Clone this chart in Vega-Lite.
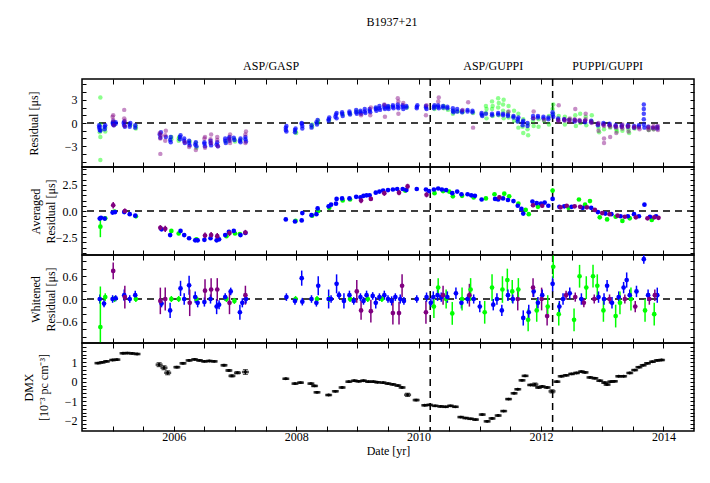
{
"$schema": "https://vega.github.io/schema/vega-lite/v6.json",
"padding": {"left": 21, "top": 16, "right": 5, "bottom": 5},
"bounds": "flush",
"spacing": 0,
"config": {
 "font": "Liberation Serif",
 "view": {"stroke": "black", "strokeWidth": 1.5},
 "axis": {"grid": false, "domain": false, "tickColor": "black", "tickWidth": 1, "labelColor": "black", "titleColor": "black", "labelFont": "Liberation Serif", "titleFont": "Liberation Serif", "labelFontSize": 12, "titleFontSize": 12, "titleFontWeight": "normal", "labelOverlap": false, "labelFlush": false, "labelBound": false},
 "title": {"font": "Liberation Serif", "fontSize": 12, "fontWeight": "normal", "color": "black"}
},
"datasets": {
 "v": [{"t": 2010.19}, {"t": 2012.19}],
 "ann": [{"t": 2007.59, "s": "ASP/GASP"}, {"t": 2011.22, "s": "ASP/GUPPI"}, {"t": 2013.09, "s": "PUPPI/GUPPI"}],
 "r": [
{"t":2004.78,"y":-0.3,"c":"b"},{"t":2004.78,"y":-0.6,"c":"b"},{"t":2004.79,"y":-0.9,"c":"b"},{"t":2004.79,"y":-0.5,"c":"b"},{"t":2004.8,"y":-1.0,"c":"b"},
{"t":2004.8,"y":3.3,"c":"a"},{"t":2004.8,"y":-0.2,"c":"a"},{"t":2004.79,"y":-1.2,"c":"a"},{"t":2004.8,"y":-1.8,"c":"a"},{"t":2004.8,"y":-4.8,"c":"a"},{"t":2004.81,"y":-0.9,"c":"a"},
{"t":2004.87,"y":-0.5,"c":"b"},{"t":2004.87,"y":-0.8,"c":"b"},{"t":2004.88,"y":-0.3,"c":"b"},{"t":2004.88,"y":-0.6,"c":"a"},{"t":2004.88,"y":-1.1,"c":"a"},
{"t":2005.0,"y":0.0,"c":"b"},{"t":2005.01,"y":-0.2,"c":"b"},{"t":2005.01,"y":0.2,"c":"b"},{"t":2005.02,"y":-0.3,"c":"b"},
{"t":2005.0,"y":0.8,"c":"c"},{"t":2005.01,"y":0.4,"c":"c"},{"t":2005.01,"y":1.0,"c":"c"},{"t":2005.02,"y":-0.3,"c":"c"},{"t":2005.02,"y":0.1,"c":"a"},{"t":2005.03,"y":-0.2,"c":"a"},
{"t":2005.05,"y":0.1,"c":"b"},{"t":2005.05,"y":-0.1,"c":"b"},
{"t":2005.18,"y":0.0,"c":"b"},{"t":2005.19,"y":-0.3,"c":"b"},{"t":2005.19,"y":0.2,"c":"b"},{"t":2005.2,"y":-0.5,"c":"b"},
{"t":2005.19,"y":1.7,"c":"c"},{"t":2005.19,"y":0.6,"c":"c"},{"t":2005.2,"y":-0.4,"c":"c"},{"t":2005.2,"y":0.3,"c":"c"},
{"t":2005.28,"y":-0.2,"c":"b"},{"t":2005.28,"y":-0.5,"c":"b"},{"t":2005.29,"y":0.0,"c":"b"},{"t":2005.29,"y":-0.3,"c":"a"},
{"t":2005.37,"y":-0.3,"c":"b"},{"t":2005.37,"y":-0.6,"c":"b"},{"t":2005.38,"y":-0.4,"c":"a"},{"t":2005.38,"y":-0.7,"c":"a"},
{"t":2005.77,"y":-1.5,"c":"b"},{"t":2005.78,"y":-1.9,"c":"b"},{"t":2005.79,"y":-1.2,"c":"b"},
{"t":2005.77,"y":-1.3,"c":"c"},{"t":2005.78,"y":-2.0,"c":"c"},{"t":2005.78,"y":-4.0,"c":"c"},{"t":2005.79,"y":-1.6,"c":"c"},
{"t":2005.86,"y":-1.6,"c":"c"},{"t":2005.86,"y":-2.3,"c":"c"},{"t":2005.87,"y":-1.0,"c":"c"},{"t":2005.87,"y":-1.8,"c":"b"},
{"t":2005.94,"y":-2.2,"c":"b"},{"t":2005.95,"y":-2.5,"c":"b"},{"t":2005.95,"y":-1.8,"c":"b"},{"t":2005.96,"y":-1.8,"c":"a"},{"t":2005.96,"y":-2.1,"c":"a"},
{"t":2006.08,"y":-2.0,"c":"a"},{"t":2006.08,"y":-2.3,"c":"a"},{"t":2006.09,"y":-1.8,"c":"a"},{"t":2006.1,"y":-1.8,"c":"b"},{"t":2006.1,"y":-2.1,"c":"b"},{"t":2006.11,"y":-1.6,"c":"b"},
{"t":2006.17,"y":-2.3,"c":"b"},{"t":2006.17,"y":-2.0,"c":"b"},{"t":2006.18,"y":-2.6,"c":"b"},{"t":2006.18,"y":-2.5,"c":"c"},
{"t":2006.25,"y":-2.6,"c":"b"},{"t":2006.25,"y":-2.3,"c":"b"},{"t":2006.26,"y":-2.9,"c":"b"},{"t":2006.26,"y":-2.4,"c":"a"},{"t":2006.25,"y":-3.1,"c":"c"},
{"t":2006.35,"y":-2.8,"c":"b"},{"t":2006.36,"y":-2.5,"c":"b"},{"t":2006.37,"y":-3.0,"c":"b"},{"t":2006.36,"y":-2.6,"c":"a"},{"t":2006.37,"y":-3.2,"c":"a"},{"t":2006.36,"y":-3.5,"c":"c"},
{"t":2006.5,"y":-2.7,"c":"b"},{"t":2006.5,"y":-2.5,"c":"b"},{"t":2006.51,"y":-3.0,"c":"b"},{"t":2006.5,"y":-2.0,"c":"c"},{"t":2006.51,"y":-1.8,"c":"c"},{"t":2006.51,"y":-3.2,"c":"c"},
{"t":2006.6,"y":-2.6,"c":"b"},{"t":2006.6,"y":-2.3,"c":"b"},{"t":2006.61,"y":-2.9,"c":"b"},{"t":2006.6,"y":-2.1,"c":"c"},{"t":2006.61,"y":-2.6,"c":"c"},{"t":2006.61,"y":-1.5,"c":"c"},
{"t":2006.7,"y":-2.8,"c":"b"},{"t":2006.71,"y":-2.5,"c":"b"},{"t":2006.72,"y":-3.0,"c":"b"},{"t":2006.71,"y":-2.2,"c":"c"},{"t":2006.71,"y":-1.8,"c":"c"},{"t":2006.72,"y":-3.0,"c":"c"},
{"t":2006.84,"y":-2.3,"c":"b"},{"t":2006.84,"y":-2.0,"c":"b"},{"t":2006.85,"y":-2.6,"c":"b"},{"t":2006.85,"y":-2.4,"c":"a"},
{"t":2006.9,"y":-2.0,"c":"b"},{"t":2006.91,"y":-1.8,"c":"b"},{"t":2006.91,"y":-2.3,"c":"b"},{"t":2006.91,"y":-2.1,"c":"c"},{"t":2006.92,"y":-1.5,"c":"c"},{"t":2006.92,"y":-2.6,"c":"c"},
{"t":2006.98,"y":-1.9,"c":"b"},{"t":2006.99,"y":-2.2,"c":"b"},{"t":2006.99,"y":-2.1,"c":"a"},{"t":2007.0,"y":-2.4,"c":"a"},
{"t":2007.08,"y":-2.3,"c":"b"},{"t":2007.09,"y":-2.0,"c":"b"},{"t":2007.09,"y":-2.5,"c":"b"},{"t":2007.09,"y":-2.2,"c":"a"},
{"t":2007.17,"y":-2.1,"c":"b"},{"t":2007.17,"y":-1.8,"c":"b"},{"t":2007.18,"y":-2.4,"c":"b"},{"t":2007.17,"y":-1.5,"c":"c"},{"t":2007.17,"y":-2.6,"c":"c"},{"t":2007.18,"y":-1.1,"c":"c"},
{"t":2007.83,"y":-0.6,"c":"b"},{"t":2007.83,"y":-0.9,"c":"b"},{"t":2007.84,"y":-1.1,"c":"b"},{"t":2007.84,"y":-0.4,"c":"b"},
{"t":2007.98,"y":-0.9,"c":"b"},{"t":2007.98,"y":-1.2,"c":"b"},{"t":2007.99,"y":-0.7,"c":"b"},{"t":2007.99,"y":-1.1,"c":"a"},{"t":2008.0,"y":-1.3,"c":"a"},
{"t":2008.09,"y":-0.1,"c":"b"},{"t":2008.09,"y":0.0,"c":"b"},{"t":2008.1,"y":-0.4,"c":"b"},{"t":2008.1,"y":-0.7,"c":"b"},
{"t":2008.25,"y":-0.3,"c":"b"},{"t":2008.25,"y":-0.6,"c":"b"},{"t":2008.26,"y":-0.5,"c":"a"},{"t":2008.26,"y":-0.2,"c":"a"},
{"t":2008.33,"y":0.1,"c":"b"},{"t":2008.34,"y":-0.2,"c":"b"},{"t":2008.35,"y":0.4,"c":"b"},{"t":2008.35,"y":0.0,"c":"a"},{"t":2008.36,"y":0.3,"c":"a"},
{"t":2008.53,"y":0.5,"c":"b"},{"t":2008.53,"y":0.3,"c":"b"},{"t":2008.54,"y":0.7,"c":"b"},{"t":2008.54,"y":0.4,"c":"a"},
{"t":2008.64,"y":0.8,"c":"b"},{"t":2008.65,"y":1.1,"c":"b"},{"t":2008.66,"y":1.3,"c":"b"},{"t":2008.66,"y":0.6,"c":"b"},
{"t":2008.75,"y":1.2,"c":"b"},{"t":2008.75,"y":1.4,"c":"b"},{"t":2008.76,"y":0.9,"c":"b"},{"t":2008.76,"y":1.1,"c":"a"},
{"t":2008.87,"y":1.3,"c":"b"},{"t":2008.87,"y":1.5,"c":"b"},{"t":2008.88,"y":1.1,"c":"b"},{"t":2008.88,"y":1.2,"c":"a"},
{"t":2008.98,"y":1.4,"c":"b"},{"t":2008.98,"y":1.7,"c":"b"},{"t":2008.99,"y":1.2,"c":"b"},{"t":2008.99,"y":1.5,"c":"a"},
{"t":2009.05,"y":1.4,"c":"b"},{"t":2009.05,"y":1.6,"c":"b"},{"t":2009.06,"y":1.2,"c":"b"},{"t":2009.06,"y":1.0,"c":"c"},
{"t":2009.12,"y":1.5,"c":"b"},{"t":2009.12,"y":1.8,"c":"b"},{"t":2009.13,"y":1.3,"c":"b"},
{"t":2009.2,"y":1.6,"c":"b"},{"t":2009.2,"y":1.8,"c":"b"},{"t":2009.21,"y":1.4,"c":"b"},{"t":2009.21,"y":1.0,"c":"c"},{"t":2009.22,"y":2.0,"c":"c"},
{"t":2009.3,"y":1.8,"c":"b"},{"t":2009.3,"y":2.0,"c":"b"},{"t":2009.31,"y":1.6,"c":"b"},{"t":2009.31,"y":1.9,"c":"a"},
{"t":2009.36,"y":1.9,"c":"b"},{"t":2009.36,"y":2.2,"c":"b"},{"t":2009.37,"y":1.7,"c":"b"},
{"t":2009.44,"y":2.0,"c":"b"},{"t":2009.44,"y":2.3,"c":"b"},{"t":2009.45,"y":1.8,"c":"b"},{"t":2009.44,"y":2.4,"c":"c"},{"t":2009.45,"y":0.8,"c":"c"},
{"t":2009.5,"y":2.0,"c":"b"},{"t":2009.5,"y":2.2,"c":"b"},{"t":2009.51,"y":1.8,"c":"b"},{"t":2009.51,"y":2.1,"c":"a"},
{"t":2009.58,"y":2.1,"c":"b"},{"t":2009.58,"y":2.3,"c":"b"},{"t":2009.59,"y":1.9,"c":"b"},
{"t":2009.66,"y":2.1,"c":"b"},{"t":2009.66,"y":2.4,"c":"b"},{"t":2009.67,"y":1.9,"c":"b"},{"t":2009.66,"y":3.2,"c":"c"},{"t":2009.67,"y":2.8,"c":"c"},{"t":2009.67,"y":1.2,"c":"c"},
{"t":2009.74,"y":2.1,"c":"b"},{"t":2009.74,"y":2.3,"c":"b"},{"t":2009.75,"y":1.8,"c":"b"},{"t":2009.75,"y":2.6,"c":"c"},
{"t":2009.8,"y":2.0,"c":"b"},{"t":2009.8,"y":2.2,"c":"b"},{"t":2009.81,"y":2.0,"c":"a"},
{"t":2009.97,"y":2.1,"c":"b"},{"t":2009.97,"y":1.9,"c":"b"},{"t":2009.98,"y":2.3,"c":"b"},
{"t":2010.12,"y":2.0,"c":"b"},{"t":2010.12,"y":2.2,"c":"b"},{"t":2010.13,"y":1.8,"c":"b"},{"t":2010.12,"y":1.0,"c":"c"},{"t":2010.13,"y":2.3,"c":"c"},
{"t":2010.25,"y":2.1,"c":"b"},{"t":2010.25,"y":1.9,"c":"b"},{"t":2010.26,"y":2.3,"c":"b"},{"t":2010.26,"y":1.8,"c":"a"},{"t":2010.27,"y":2.1,"c":"a"},
{"t":2010.32,"y":2.1,"c":"b"},{"t":2010.32,"y":2.3,"c":"b"},{"t":2010.33,"y":1.9,"c":"b"},{"t":2010.32,"y":2.8,"c":"c"},{"t":2010.33,"y":3.3,"c":"c"},
{"t":2010.4,"y":2.0,"c":"b"},{"t":2010.4,"y":2.2,"c":"b"},{"t":2010.41,"y":1.9,"c":"a"},{"t":2010.41,"y":2.2,"c":"a"},
{"t":2010.47,"y":1.9,"c":"b"},{"t":2010.47,"y":2.1,"c":"b"},{"t":2010.48,"y":1.7,"c":"a"},
{"t":2010.56,"y":1.6,"c":"b"},{"t":2010.56,"y":1.9,"c":"b"},{"t":2010.57,"y":1.4,"c":"b"},{"t":2010.56,"y":1.2,"c":"a"},{"t":2010.57,"y":1.6,"c":"a"},
{"t":2010.63,"y":1.8,"c":"b"},{"t":2010.63,"y":1.5,"c":"b"},{"t":2010.64,"y":1.5,"c":"a"},
{"t":2010.71,"y":1.6,"c":"b"},{"t":2010.71,"y":1.4,"c":"b"},{"t":2010.72,"y":1.4,"c":"a"},{"t":2010.72,"y":1.7,"c":"c"},
{"t":2010.8,"y":1.5,"c":"b"},{"t":2010.8,"y":1.7,"c":"b"},{"t":2010.81,"y":2.7,"c":"c"},
{"t":2010.88,"y":1.4,"c":"b"},{"t":2010.88,"y":1.6,"c":"b"},{"t":2010.89,"y":1.3,"c":"a"},{"t":2010.89,"y":-0.6,"c":"c"},
{"t":2011.03,"y":1.1,"c":"b"},{"t":2011.03,"y":1.3,"c":"b"},{"t":2011.04,"y":0.9,"c":"b"},{"t":2011.04,"y":1.0,"c":"a"},
{"t":2011.1,"y":1.2,"c":"b"},{"t":2011.1,"y":1.3,"c":"a"},{"t":2011.1,"y":2.2,"c":"a"},{"t":2011.11,"y":0.6,"c":"a"},{"t":2011.11,"y":1.8,"c":"a"},
{"t":2011.2,"y":1.2,"c":"b"},{"t":2011.2,"y":1.0,"c":"b"},{"t":2011.2,"y":1.8,"c":"a"},{"t":2011.2,"y":2.8,"c":"a"},{"t":2011.21,"y":0.9,"c":"a"},{"t":2011.21,"y":2.2,"c":"a"},
{"t":2011.3,"y":1.1,"c":"b"},{"t":2011.3,"y":1.3,"c":"b"},{"t":2011.3,"y":2.0,"c":"a"},{"t":2011.3,"y":3.2,"c":"a"},{"t":2011.31,"y":1.0,"c":"a"},{"t":2011.31,"y":2.6,"c":"a"},
{"t":2011.38,"y":1.2,"c":"b"},{"t":2011.38,"y":1.0,"c":"b"},{"t":2011.38,"y":1.6,"c":"a"},{"t":2011.38,"y":2.4,"c":"a"},{"t":2011.39,"y":0.6,"c":"a"},{"t":2011.39,"y":3.0,"c":"a"},
{"t":2011.46,"y":1.1,"c":"b"},{"t":2011.46,"y":0.9,"c":"b"},{"t":2011.46,"y":1.4,"c":"a"},{"t":2011.47,"y":2.2,"c":"a"},{"t":2011.47,"y":0.7,"c":"a"},{"t":2011.47,"y":1.5,"c":"c"},
{"t":2011.55,"y":0.9,"c":"b"},{"t":2011.55,"y":0.7,"c":"b"},{"t":2011.55,"y":0.8,"c":"a"},{"t":2011.56,"y":1.6,"c":"a"},{"t":2011.56,"y":0.3,"c":"a"},
{"t":2011.62,"y":0.5,"c":"b"},{"t":2011.62,"y":0.2,"c":"b"},{"t":2011.63,"y":0.7,"c":"b"},{"t":2011.62,"y":0.2,"c":"a"},{"t":2011.63,"y":-0.6,"c":"a"},{"t":2011.63,"y":1.2,"c":"a"},
{"t":2011.7,"y":0.1,"c":"b"},{"t":2011.7,"y":-0.3,"c":"b"},{"t":2011.71,"y":0.3,"c":"b"},{"t":2011.7,"y":-0.5,"c":"a"},{"t":2011.71,"y":-1.3,"c":"a"},{"t":2011.71,"y":0.5,"c":"a"},
{"t":2011.78,"y":0.0,"c":"b"},{"t":2011.78,"y":-0.4,"c":"b"},{"t":2011.78,"y":-0.8,"c":"a"},{"t":2011.79,"y":-1.6,"c":"a"},{"t":2011.79,"y":-0.2,"c":"a"},
{"t":2011.87,"y":0.9,"c":"b"},{"t":2011.87,"y":0.6,"c":"b"},{"t":2011.87,"y":0.3,"c":"a"},{"t":2011.88,"y":-0.4,"c":"a"},{"t":2011.88,"y":0.6,"c":"c"},{"t":2011.88,"y":1.5,"c":"c"},
{"t":2011.95,"y":0.7,"c":"b"},{"t":2011.95,"y":0.9,"c":"b"},{"t":2011.96,"y":0.5,"c":"a"},{"t":2011.96,"y":-0.5,"c":"a"},
{"t":2012.04,"y":0.8,"c":"b"},{"t":2012.04,"y":0.6,"c":"b"},{"t":2012.05,"y":0.3,"c":"a"},{"t":2012.05,"y":0.4,"c":"c"},
{"t":2012.12,"y":0.5,"c":"b"},{"t":2012.12,"y":0.7,"c":"b"},{"t":2012.13,"y":0.9,"c":"a"},{"t":2012.13,"y":-0.2,"c":"a"},
{"t":2012.19,"y":1.1,"c":"b"},{"t":2012.19,"y":1.4,"c":"b"},{"t":2012.2,"y":0.8,"c":"b"},{"t":2012.19,"y":1.8,"c":"a"},{"t":2012.2,"y":2.4,"c":"a"},{"t":2012.2,"y":1.2,"c":"a"},
{"t":2012.28,"y":0.4,"c":"b"},{"t":2012.28,"y":0.6,"c":"b"},{"t":2012.28,"y":0.4,"c":"c"},{"t":2012.29,"y":0.2,"c":"c"},{"t":2012.29,"y":2.3,"c":"c"},{"t":2012.29,"y":0.9,"c":"a"},
{"t":2012.38,"y":0.4,"c":"b"},{"t":2012.38,"y":0.5,"c":"b"},{"t":2012.38,"y":0.5,"c":"c"},{"t":2012.39,"y":0.3,"c":"c"},{"t":2012.39,"y":0.8,"c":"a"},{"t":2012.39,"y":-0.2,"c":"a"},
{"t":2012.46,"y":0.4,"c":"b"},{"t":2012.46,"y":0.4,"c":"c"},{"t":2012.47,"y":0.6,"c":"c"},{"t":2012.47,"y":0.2,"c":"c"},{"t":2012.47,"y":0.5,"c":"a"},
{"t":2012.55,"y":0.4,"c":"b"},{"t":2012.55,"y":0.2,"c":"b"},{"t":2012.55,"y":0.5,"c":"c"},{"t":2012.56,"y":0.3,"c":"c"},{"t":2012.56,"y":1.8,"c":"c"},{"t":2012.56,"y":1.0,"c":"a"},{"t":2012.57,"y":-0.4,"c":"a"},
{"t":2012.63,"y":0.3,"c":"b"},{"t":2012.63,"y":0.4,"c":"c"},{"t":2012.64,"y":0.2,"c":"c"},{"t":2012.64,"y":1.2,"c":"a"},{"t":2012.64,"y":0.0,"c":"a"},
{"t":2012.72,"y":0.3,"c":"b"},{"t":2012.72,"y":0.1,"c":"b"},{"t":2012.72,"y":0.3,"c":"c"},{"t":2012.73,"y":0.5,"c":"c"},{"t":2012.73,"y":1.2,"c":"c"},{"t":2012.73,"y":0.8,"c":"a"},{"t":2012.74,"y":-0.3,"c":"a"},
{"t":2012.82,"y":0.3,"c":"b"},{"t":2012.82,"y":0.1,"c":"b"},{"t":2012.82,"y":0.2,"c":"c"},{"t":2012.83,"y":0.0,"c":"c"},{"t":2012.83,"y":1.0,"c":"a"},{"t":2012.83,"y":0.2,"c":"a"},
{"t":2012.93,"y":-0.1,"c":"b"},{"t":2012.93,"y":-0.3,"c":"b"},{"t":2012.93,"y":-0.2,"c":"c"},{"t":2012.94,"y":0.0,"c":"c"},{"t":2012.94,"y":-1.0,"c":"c"},{"t":2012.94,"y":-0.6,"c":"a"},{"t":2012.95,"y":-1.2,"c":"a"},
{"t":2013.02,"y":-0.2,"c":"b"},{"t":2013.02,"y":0.0,"c":"b"},{"t":2013.02,"y":-0.2,"c":"c"},{"t":2013.03,"y":-0.4,"c":"c"},{"t":2013.03,"y":-2.0,"c":"c"},{"t":2013.03,"y":-2.6,"c":"c"},{"t":2013.03,"y":-0.8,"c":"a"},
{"t":2013.12,"y":-0.3,"c":"b"},{"t":2013.12,"y":-0.1,"c":"b"},{"t":2013.12,"y":-0.3,"c":"c"},{"t":2013.13,"y":-0.5,"c":"c"},{"t":2013.13,"y":-1.8,"c":"c"},{"t":2013.13,"y":-0.6,"c":"a"},
{"t":2013.22,"y":-0.3,"c":"b"},{"t":2013.22,"y":-0.5,"c":"b"},{"t":2013.22,"y":-0.4,"c":"c"},{"t":2013.23,"y":-0.6,"c":"c"},{"t":2013.23,"y":-1.3,"c":"c"},{"t":2013.23,"y":-0.8,"c":"a"},{"t":2013.24,"y":-1.1,"c":"a"},
{"t":2013.32,"y":-0.5,"c":"b"},{"t":2013.32,"y":-0.3,"c":"b"},{"t":2013.32,"y":-0.5,"c":"c"},{"t":2013.33,"y":-0.7,"c":"c"},{"t":2013.33,"y":-0.2,"c":"c"},{"t":2013.33,"y":-1.0,"c":"a"},
{"t":2013.42,"y":-0.5,"c":"b"},{"t":2013.42,"y":-0.3,"c":"b"},{"t":2013.42,"y":-0.5,"c":"c"},{"t":2013.43,"y":-0.4,"c":"c"},{"t":2013.43,"y":-1.1,"c":"c"},{"t":2013.43,"y":-0.8,"c":"a"},{"t":2013.44,"y":-1.3,"c":"a"},
{"t":2013.52,"y":-0.4,"c":"b"},{"t":2013.52,"y":-0.6,"c":"b"},{"t":2013.52,"y":-0.6,"c":"c"},{"t":2013.53,"y":-0.5,"c":"c"},{"t":2013.53,"y":-0.7,"c":"a"},
{"t":2013.6,"y":-0.5,"c":"b"},{"t":2013.6,"y":-0.3,"c":"b"},{"t":2013.6,"y":-0.6,"c":"c"},{"t":2013.61,"y":-0.8,"c":"c"},
{"t":2013.68,"y":2.4,"c":"b"},{"t":2013.68,"y":1.8,"c":"b"},{"t":2013.68,"y":1.2,"c":"b"},{"t":2013.68,"y":0.5,"c":"b"},{"t":2013.68,"y":-0.2,"c":"b"},{"t":2013.69,"y":-0.6,"c":"b"},
{"t":2013.75,"y":-0.5,"c":"b"},{"t":2013.75,"y":-0.7,"c":"c"},{"t":2013.76,"y":-0.5,"c":"c"},{"t":2013.76,"y":-0.9,"c":"c"},{"t":2013.76,"y":-0.9,"c":"a"},
{"t":2013.83,"y":-0.6,"c":"b"},{"t":2013.83,"y":-0.6,"c":"c"},{"t":2013.84,"y":-0.8,"c":"c"},{"t":2013.84,"y":-0.4,"c":"c"},{"t":2013.84,"y":-0.8,"c":"a"},
{"t":2013.9,"y":-0.5,"c":"b"},{"t":2013.9,"y":-0.7,"c":"b"},{"t":2013.9,"y":-0.6,"c":"c"},{"t":2013.91,"y":-0.9,"c":"c"},{"t":2013.91,"y":-0.4,"c":"c"}
 ],
 "a": [
{"t":2004.79,"y":-0.72,"e":0.15,"c":"b"},{"t":2004.81,"y":-0.65,"e":0.15,"c":"b"},{"t":2004.8,"y":-1.5,"e":1.0,"c":"a"},{"t":2004.88,"y":-0.7,"e":0.2,"c":"a"},{"t":2004.87,"y":-0.72,"e":0.12,"c":"b"},
{"t":2005.01,"y":0.55,"e":0.3,"c":"c"},{"t":2005.0,"y":-0.15,"e":0.1,"c":"b"},{"t":2005.04,"y":-0.1,"e":0.1,"c":"b"},{"t":2005.03,"y":-0.05,"e":0.1,"c":"a"},
{"t":2005.19,"y":-0.1,"e":0.1,"c":"b"},{"t":2005.2,"y":0.0,"e":0.25,"c":"c"},{"t":2005.28,"y":-0.3,"e":0.1,"c":"b"},{"t":2005.38,"y":-0.5,"e":0.2,"c":"a"},{"t":2005.37,"y":-0.45,"e":0.1,"c":"b"},
{"t":2005.78,"y":-1.6,"e":0.25,"c":"c"},{"t":2005.8,"y":-1.75,"e":0.1,"c":"b"},{"t":2005.86,"y":-1.7,"e":0.3,"c":"c"},{"t":2005.94,"y":-2.3,"e":0.15,"c":"b"},{"t":2005.96,"y":-1.9,"e":0.15,"c":"a"},
{"t":2006.08,"y":-2.15,"e":0.15,"c":"a"},{"t":2006.11,"y":-1.9,"e":0.15,"c":"b"},{"t":2006.17,"y":-2.3,"e":0.12,"c":"b"},{"t":2006.25,"y":-2.6,"e":0.12,"c":"b"},
{"t":2006.35,"y":-2.8,"e":0.12,"c":"b"},{"t":2006.39,"y":-2.8,"e":0.12,"c":"b"},{"t":2006.37,"y":-2.7,"e":0.15,"c":"a"},
{"t":2006.5,"y":-2.75,"e":0.12,"c":"b"},{"t":2006.51,"y":-2.35,"e":0.3,"c":"c"},{"t":2006.6,"y":-2.6,"e":0.12,"c":"b"},{"t":2006.61,"y":-2.3,"e":0.3,"c":"c"},
{"t":2006.7,"y":-2.8,"e":0.12,"c":"b"},{"t":2006.71,"y":-2.4,"e":0.3,"c":"c"},{"t":2006.74,"y":-2.7,"e":0.12,"c":"b"},{"t":2006.84,"y":-2.3,"e":0.12,"c":"b"},{"t":2006.86,"y":-2.4,"e":0.15,"c":"a"},
{"t":2006.9,"y":-2.0,"e":0.12,"c":"b"},{"t":2006.91,"y":-2.1,"e":0.3,"c":"c"},{"t":2006.98,"y":-1.9,"e":0.12,"c":"b"},{"t":2007.0,"y":-2.15,"e":0.15,"c":"a"},
{"t":2007.09,"y":-2.3,"e":0.12,"c":"b"},{"t":2007.08,"y":-2.2,"e":0.15,"c":"a"},{"t":2007.17,"y":-2.1,"e":0.12,"c":"b"},{"t":2007.17,"y":-2.05,"e":0.25,"c":"c"},
{"t":2007.83,"y":-0.8,"e":0.1,"c":"b"},{"t":2007.98,"y":-1.0,"e":0.1,"c":"b"},{"t":2007.99,"y":-0.95,"e":0.1,"c":"a"},{"t":2008.09,"y":-0.9,"e":0.1,"c":"b"},{"t":2008.1,"y":-0.2,"e":0.15,"c":"b"},
{"t":2008.25,"y":-0.4,"e":0.1,"c":"b"},{"t":2008.26,"y":-0.45,"e":0.1,"c":"a"},{"t":2008.33,"y":-0.3,"e":0.1,"c":"b"},{"t":2008.35,"y":0.25,"e":0.15,"c":"b"},{"t":2008.36,"y":0.0,"e":0.1,"c":"a"},
{"t":2008.53,"y":0.45,"e":0.1,"c":"b"},{"t":2008.54,"y":0.3,"e":0.1,"c":"a"},{"t":2008.57,"y":0.6,"e":0.1,"c":"b"},{"t":2008.65,"y":0.7,"e":0.1,"c":"b"},{"t":2008.66,"y":1.15,"e":0.15,"c":"b"},
{"t":2008.75,"y":1.2,"e":0.1,"c":"b"},{"t":2008.76,"y":1.0,"e":0.1,"c":"a"},{"t":2008.87,"y":1.2,"e":0.1,"c":"b"},{"t":2008.88,"y":1.1,"e":0.1,"c":"a"},{"t":2008.98,"y":1.35,"e":0.1,"c":"b"},
{"t":2009.05,"y":1.3,"e":0.1,"c":"b"},{"t":2009.06,"y":1.0,"e":0.25,"c":"c"},{"t":2009.1,"y":1.45,"e":0.1,"c":"b"},{"t":2009.15,"y":1.5,"e":0.1,"c":"b"},{"t":2009.2,"y":1.5,"e":0.1,"c":"b"},{"t":2009.22,"y":1.15,"e":0.2,"c":"c"},
{"t":2009.3,"y":1.75,"e":0.1,"c":"b"},{"t":2009.36,"y":1.85,"e":0.1,"c":"b"},{"t":2009.42,"y":1.95,"e":0.1,"c":"b"},{"t":2009.44,"y":1.7,"e":0.25,"c":"c"},{"t":2009.5,"y":2.0,"e":0.1,"c":"b"},
{"t":2009.58,"y":2.05,"e":0.1,"c":"b"},{"t":2009.65,"y":2.1,"e":0.1,"c":"b"},{"t":2009.68,"y":1.75,"e":0.25,"c":"c"},{"t":2009.74,"y":2.1,"e":0.1,"c":"b"},{"t":2009.8,"y":2.0,"e":0.1,"c":"b"},
{"t":2009.82,"y":2.35,"e":0.25,"c":"c"},{"t":2009.78,"y":1.95,"e":0.1,"c":"a"},{"t":2009.97,"y":2.1,"e":0.1,"c":"b"},{"t":2010.12,"y":2.05,"e":0.1,"c":"b"},{"t":2010.13,"y":1.55,"e":0.25,"c":"c"},
{"t":2010.17,"y":1.9,"e":0.1,"c":"b"},{"t":2010.25,"y":2.05,"e":0.1,"c":"b"},{"t":2010.26,"y":1.7,"e":0.15,"c":"a"},{"t":2010.32,"y":2.15,"e":0.1,"c":"b"},{"t":2010.38,"y":2.05,"e":0.1,"c":"b"},
{"t":2010.4,"y":1.9,"e":0.15,"c":"a"},{"t":2010.45,"y":2.0,"e":0.1,"c":"b"},{"t":2010.5,"y":1.85,"e":0.15,"c":"a"},{"t":2010.55,"y":1.7,"e":0.1,"c":"b"},{"t":2010.56,"y":1.4,"e":0.15,"c":"a"},
{"t":2010.63,"y":1.85,"e":0.1,"c":"b"},{"t":2010.7,"y":1.6,"e":0.1,"c":"b"},{"t":2010.71,"y":1.45,"e":0.15,"c":"a"},{"t":2010.8,"y":1.6,"e":0.1,"c":"b"},{"t":2010.86,"y":1.5,"e":0.1,"c":"b"},
{"t":2010.9,"y":1.3,"e":0.15,"c":"a"},{"t":2010.92,"y":1.45,"e":0.1,"c":"b"},{"t":2011.03,"y":1.1,"e":0.1,"c":"b"},{"t":2011.1,"y":1.2,"e":0.15,"c":"a"},{"t":2011.25,"y":1.15,"e":0.1,"c":"b"},
{"t":2011.24,"y":1.6,"e":0.15,"c":"a"},{"t":2011.3,"y":1.1,"e":0.1,"c":"b"},{"t":2011.32,"y":1.3,"e":0.2,"c":"c"},{"t":2011.38,"y":1.2,"e":0.1,"c":"b"},{"t":2011.4,"y":1.65,"e":0.15,"c":"a"},
{"t":2011.46,"y":1.05,"e":0.1,"c":"b"},{"t":2011.48,"y":1.4,"e":0.15,"c":"a"},{"t":2011.55,"y":0.95,"e":0.1,"c":"b"},{"t":2011.62,"y":0.5,"e":0.1,"c":"b"},{"t":2011.63,"y":0.7,"e":0.15,"c":"a"},
{"t":2011.68,"y":0.2,"e":0.1,"c":"b"},{"t":2011.71,"y":-0.25,"e":0.12,"c":"b"},{"t":2011.75,"y":0.1,"e":0.15,"c":"a"},{"t":2011.8,"y":-0.3,"e":0.15,"c":"a"},{"t":2011.86,"y":0.9,"e":0.1,"c":"b"},
{"t":2011.87,"y":0.55,"e":0.2,"c":"c"},{"t":2011.93,"y":0.75,"e":0.1,"c":"b"},{"t":2011.95,"y":0.4,"e":0.15,"c":"a"},{"t":2012.0,"y":0.7,"e":0.1,"c":"b"},{"t":2012.02,"y":0.5,"e":0.2,"c":"c"},
{"t":2012.06,"y":0.8,"e":0.1,"c":"b"},{"t":2012.12,"y":0.5,"e":0.1,"c":"b"},{"t":2012.19,"y":1.15,"e":0.12,"c":"b"},{"t":2012.19,"y":1.95,"e":0.2,"c":"a"},
{"t":2012.3,"y":0.4,"e":0.1,"c":"b"},{"t":2012.32,"y":0.35,"e":0.12,"c":"c"},{"t":2012.38,"y":0.45,"e":0.1,"c":"b"},{"t":2012.42,"y":0.5,"e":0.12,"c":"c"},{"t":2012.45,"y":0.3,"e":0.15,"c":"a"},
{"t":2012.5,"y":0.4,"e":0.1,"c":"b"},{"t":2012.55,"y":0.45,"e":0.12,"c":"c"},{"t":2012.62,"y":1.1,"e":0.15,"c":"a"},{"t":2012.64,"y":0.4,"e":0.12,"c":"c"},{"t":2012.68,"y":0.3,"e":0.1,"c":"b"},
{"t":2012.72,"y":0.6,"e":0.15,"c":"a"},{"t":2012.75,"y":0.35,"e":0.12,"c":"c"},{"t":2012.8,"y":0.95,"e":0.15,"c":"a"},{"t":2012.82,"y":0.3,"e":0.1,"c":"b"},{"t":2012.88,"y":0.1,"e":0.12,"c":"c"},
{"t":2012.93,"y":-0.1,"e":0.1,"c":"b"},{"t":2012.96,"y":-0.6,"e":0.15,"c":"a"},{"t":2013.0,"y":-0.2,"e":0.12,"c":"c"},{"t":2013.05,"y":-0.25,"e":0.1,"c":"b"},{"t":2013.08,"y":-0.8,"e":0.15,"c":"a"},
{"t":2013.12,"y":-0.3,"e":0.12,"c":"c"},{"t":2013.15,"y":-0.3,"e":0.1,"c":"b"},{"t":2013.22,"y":-0.55,"e":0.15,"c":"a"},{"t":2013.25,"y":-0.45,"e":0.12,"c":"c"},{"t":2013.3,"y":-0.5,"e":0.1,"c":"b"},
{"t":2013.33,"y":-0.95,"e":0.15,"c":"a"},{"t":2013.37,"y":-0.55,"e":0.12,"c":"c"},{"t":2013.42,"y":-0.5,"e":0.1,"c":"b"},{"t":2013.45,"y":-0.7,"e":0.15,"c":"a"},{"t":2013.52,"y":-0.3,"e":0.1,"c":"b"},
{"t":2013.55,"y":-0.6,"e":0.12,"c":"c"},{"t":2013.6,"y":-0.5,"e":0.1,"c":"b"},{"t":2013.69,"y":0.6,"e":0.1,"c":"b"},{"t":2013.74,"y":-0.7,"e":0.12,"c":"c"},{"t":2013.78,"y":-0.55,"e":0.1,"c":"b"},
{"t":2013.81,"y":-0.85,"e":0.15,"c":"a"},{"t":2013.85,"y":-0.6,"e":0.12,"c":"c"},{"t":2013.88,"y":-0.5,"e":0.1,"c":"b"},{"t":2013.92,"y":-0.65,"e":0.12,"c":"c"}
 ],
 "w": [
{"t":2004.79,"y":0.0,"e":0.12,"c":"b"},{"t":2004.8,"y":-0.74,"e":1.07,"c":"a"},{"t":2004.86,"y":-0.12,"e":0.1,"c":"b"},{"t":2004.88,"y":0.05,"e":0.1,"c":"a"},
{"t":2005.01,"y":0.74,"e":0.22,"c":"c"},{"t":2005.0,"y":0.0,"e":0.1,"c":"b"},{"t":2005.03,"y":0.0,"e":0.08,"c":"a"},{"t":2005.05,"y":0.02,"e":0.08,"c":"b"},
{"t":2005.19,"y":0.1,"e":0.15,"c":"b"},{"t":2005.2,"y":0.05,"e":0.3,"c":"c"},{"t":2005.28,"y":0.0,"e":0.1,"c":"b"},{"t":2005.37,"y":0.1,"e":0.12,"c":"b"},{"t":2005.38,"y":0.0,"e":0.08,"c":"a"},
{"t":2005.78,"y":-0.05,"e":0.35,"c":"c"},{"t":2005.8,"y":-0.12,"e":0.1,"c":"b"},{"t":2005.86,"y":0.0,"e":0.3,"c":"c"},{"t":2005.94,"y":-0.3,"e":0.2,"c":"b"},{"t":2005.96,"y":0.0,"e":0.08,"c":"a"},
{"t":2006.08,"y":0.0,"e":0.08,"c":"a"},{"t":2006.11,"y":0.28,"e":0.2,"c":"b"},{"t":2006.17,"y":0.0,"e":0.15,"c":"b"},{"t":2006.25,"y":0.36,"e":0.25,"c":"b"},{"t":2006.26,"y":-0.1,"e":0.35,"c":"c"},
{"t":2006.35,"y":0.05,"e":0.15,"c":"b"},{"t":2006.39,"y":-0.1,"e":0.12,"c":"b"},{"t":2006.37,"y":0.0,"e":0.08,"c":"a"},{"t":2006.5,"y":-0.08,"e":0.12,"c":"b"},{"t":2006.51,"y":0.22,"e":0.3,"c":"c"},
{"t":2006.6,"y":0.0,"e":0.12,"c":"b"},{"t":2006.61,"y":0.25,"e":0.3,"c":"c"},{"t":2006.7,"y":-0.2,"e":0.2,"c":"b"},{"t":2006.71,"y":0.25,"e":0.3,"c":"c"},{"t":2006.74,"y":-0.15,"e":0.12,"c":"b"},
{"t":2006.84,"y":0.05,"e":0.1,"c":"b"},{"t":2006.86,"y":0.0,"e":0.08,"c":"a"},{"t":2006.91,"y":-0.1,"e":0.3,"c":"c"},{"t":2006.93,"y":0.2,"e":0.1,"c":"b"},{"t":2006.99,"y":-0.05,"e":0.08,"c":"a"},
{"t":2007.08,"y":-0.35,"e":0.2,"c":"b"},{"t":2007.12,"y":-0.1,"e":0.12,"c":"b"},{"t":2007.17,"y":0.1,"e":0.25,"c":"c"},{"t":2007.18,"y":0.0,"e":0.12,"c":"b"},
{"t":2007.84,"y":0.05,"e":0.1,"c":"b"},{"t":2007.98,"y":-0.05,"e":0.1,"c":"b"},{"t":2007.99,"y":0.0,"e":0.08,"c":"a"},{"t":2008.09,"y":0.55,"e":0.2,"c":"b"},{"t":2008.1,"y":-0.07,"e":0.1,"c":"b"},
{"t":2008.25,"y":0.0,"e":0.1,"c":"b"},{"t":2008.33,"y":-0.1,"e":0.1,"c":"b"},{"t":2008.34,"y":0.0,"e":0.08,"c":"a"},{"t":2008.36,"y":0.35,"e":0.25,"c":"b"},{"t":2008.53,"y":0.0,"e":0.25,"c":"b"},
{"t":2008.54,"y":0.0,"e":0.08,"c":"a"},{"t":2008.57,"y":0.0,"e":0.1,"c":"b"},{"t":2008.66,"y":0.4,"e":0.25,"c":"b"},{"t":2008.7,"y":0.1,"e":0.1,"c":"b"},{"t":2008.78,"y":-0.05,"e":0.2,"c":"b"},
{"t":2008.87,"y":0.1,"e":0.12,"c":"b"},{"t":2008.88,"y":0.0,"e":0.08,"c":"a"},{"t":2008.94,"y":-0.05,"e":0.1,"c":"b"},{"t":2008.99,"y":0.2,"e":0.3,"c":"c"},
{"t":2009.06,"y":-0.3,"e":0.25,"c":"c"},{"t":2009.05,"y":0.05,"e":0.1,"c":"b"},{"t":2009.1,"y":-0.05,"e":0.1,"c":"b"},{"t":2009.15,"y":0.1,"e":0.12,"c":"b"},{"t":2009.17,"y":0.0,"e":0.08,"c":"a"},
{"t":2009.22,"y":-0.32,"e":0.3,"c":"c"},{"t":2009.25,"y":0.08,"e":0.1,"c":"b"},{"t":2009.3,"y":-0.1,"e":0.15,"c":"b"},{"t":2009.36,"y":0.05,"e":0.1,"c":"b"},{"t":2009.4,"y":0.0,"e":0.08,"c":"a"},
{"t":2009.44,"y":0.1,"e":0.12,"c":"b"},{"t":2009.5,"y":0.0,"e":0.1,"c":"b"},{"t":2009.56,"y":-0.05,"e":0.12,"c":"b"},{"t":2009.58,"y":-0.37,"e":0.3,"c":"c"},{"t":2009.62,"y":0.05,"e":0.1,"c":"b"},
{"t":2009.68,"y":-0.37,"e":0.3,"c":"c"},{"t":2009.7,"y":0.0,"e":0.12,"c":"b"},{"t":2009.73,"y":0.35,"e":0.3,"c":"c"},{"t":2009.76,"y":-0.05,"e":0.1,"c":"b"},{"t":2009.97,"y":0.0,"e":0.1,"c":"b"},
{"t":2010.12,"y":-0.35,"e":0.3,"c":"c"},{"t":2010.13,"y":0.05,"e":0.12,"c":"b"},{"t":2010.2,"y":-0.1,"e":0.12,"c":"b"},{"t":2010.24,"y":0.05,"e":0.15,"c":"b"},{"t":2010.25,"y":-0.2,"e":0.3,"c":"a"},
{"t":2010.31,"y":0.1,"e":0.15,"c":"b"},{"t":2010.32,"y":0.3,"e":0.25,"c":"a"},{"t":2010.37,"y":0.05,"e":0.12,"c":"b"},{"t":2010.4,"y":0.1,"e":0.25,"c":"c"},{"t":2010.45,"y":0.0,"e":0.25,"c":"a"},
{"t":2010.47,"y":0.05,"e":0.15,"c":"b"},{"t":2010.55,"y":-0.38,"e":0.3,"c":"a"},{"t":2010.61,"y":0.15,"e":0.15,"c":"b"},{"t":2010.7,"y":-0.1,"e":0.15,"c":"b"},{"t":2010.71,"y":0.0,"e":0.3,"c":"a"},
{"t":2010.8,"y":0.0,"e":0.12,"c":"b"},{"t":2010.83,"y":0.1,"e":0.3,"c":"c"},{"t":2010.85,"y":0.25,"e":0.3,"c":"a"},{"t":2010.9,"y":0.0,"e":0.12,"c":"b"},{"t":2011.0,"y":-0.2,"e":0.15,"c":"b"},
{"t":2011.08,"y":-0.35,"e":0.3,"c":"a"},{"t":2011.2,"y":0.3,"e":0.35,"c":"a"},{"t":2011.22,"y":-0.15,"e":0.15,"c":"b"},{"t":2011.28,"y":0.0,"e":0.15,"c":"b"},{"t":2011.36,"y":-0.3,"e":0.15,"c":"b"},
{"t":2011.37,"y":0.25,"e":0.35,"c":"a"},{"t":2011.45,"y":0.5,"e":0.3,"c":"a"},{"t":2011.46,"y":0.1,"e":0.15,"c":"b"},{"t":2011.53,"y":0.2,"e":0.3,"c":"a"},{"t":2011.54,"y":0.0,"e":0.12,"c":"b"},
{"t":2011.62,"y":0.0,"e":0.3,"c":"c"},{"t":2011.63,"y":0.25,"e":0.3,"c":"a"},{"t":2011.71,"y":-0.5,"e":0.2,"c":"b"},{"t":2011.79,"y":-0.55,"e":0.3,"c":"a"},{"t":2011.8,"y":-0.35,"e":0.2,"c":"b"},
{"t":2011.87,"y":0.3,"e":0.25,"c":"c"},{"t":2011.88,"y":0.2,"e":0.15,"c":"b"},{"t":2011.93,"y":-0.3,"e":0.3,"c":"a"},{"t":2011.95,"y":-0.1,"e":0.15,"c":"b"},{"t":2012.01,"y":0.0,"e":0.3,"c":"c"},
{"t":2012.02,"y":0.1,"e":0.15,"c":"b"},{"t":2012.1,"y":-0.45,"e":0.25,"c":"c"},{"t":2012.11,"y":-0.2,"e":0.3,"c":"a"},{"t":2012.19,"y":0.4,"e":0.2,"c":"b"},{"t":2012.2,"y":0.85,"e":0.3,"c":"a"},
{"t":2012.29,"y":-0.4,"e":0.3,"c":"a"},{"t":2012.3,"y":-0.2,"e":0.15,"c":"b"},{"t":2012.36,"y":0.0,"e":0.15,"c":"b"},{"t":2012.41,"y":0.1,"e":0.12,"c":"c"},{"t":2012.47,"y":0.15,"e":0.15,"c":"b"},
{"t":2012.54,"y":-0.55,"e":0.3,"c":"a"},{"t":2012.56,"y":0.05,"e":0.12,"c":"c"},{"t":2012.63,"y":0.6,"e":0.3,"c":"a"},{"t":2012.66,"y":0.0,"e":0.15,"c":"b"},{"t":2012.7,"y":-0.1,"e":0.12,"c":"c"},
{"t":2012.74,"y":0.3,"e":0.3,"c":"a"},{"t":2012.85,"y":0.6,"e":0.3,"c":"a"},{"t":2012.87,"y":0.0,"e":0.12,"c":"c"},{"t":2012.92,"y":0.35,"e":0.3,"c":"a"},{"t":2012.94,"y":0.05,"e":0.15,"c":"b"},
{"t":2013.02,"y":-0.3,"e":0.3,"c":"a"},{"t":2013.03,"y":0.0,"e":0.15,"c":"b"},{"t":2013.08,"y":0.35,"e":0.15,"c":"b"},{"t":2013.12,"y":0.0,"e":0.12,"c":"c"},{"t":2013.16,"y":-0.1,"e":0.15,"c":"b"},
{"t":2013.22,"y":-0.45,"e":0.3,"c":"a"},{"t":2013.27,"y":0.05,"e":0.15,"c":"b"},{"t":2013.29,"y":-0.1,"e":0.3,"c":"a"},{"t":2013.35,"y":0.3,"e":0.15,"c":"b"},{"t":2013.37,"y":0.0,"e":0.12,"c":"c"},
{"t":2013.4,"y":0.5,"e":0.2,"c":"b"},{"t":2013.45,"y":0.1,"e":0.15,"c":"b"},{"t":2013.47,"y":0.0,"e":0.3,"c":"a"},{"t":2013.54,"y":-0.2,"e":0.15,"c":"c"},{"t":2013.56,"y":0.2,"e":0.15,"c":"b"},
{"t":2013.68,"y":1.05,"e":0.12,"c":"b"},{"t":2013.7,"y":-0.3,"e":0.3,"c":"a"},{"t":2013.75,"y":0.1,"e":0.15,"c":"b"},{"t":2013.77,"y":0.0,"e":0.15,"c":"c"},{"t":2013.85,"y":-0.4,"e":0.3,"c":"a"},
{"t":2013.86,"y":0.1,"e":0.15,"c":"c"},{"t":2013.9,"y":0.1,"e":0.2,"c":"b"}
 ],
 "d": [
{"t":2004.76,"y":0.96,"e":0.03},{"t":2004.83,"y":1.0,"e":0.03},{"t":2004.9,"y":1.05,"e":0.03},{"t":2005.0,"y":1.12,"e":0.03},{"t":2005.07,"y":1.14,"e":0.03},
{"t":2005.17,"y":1.47,"e":0.03},{"t":2005.24,"y":1.48,"e":0.03},{"t":2005.32,"y":1.46,"e":0.03},{"t":2005.4,"y":1.43,"e":0.03},
{"t":2005.76,"y":0.88,"e":0.1},{"t":2005.84,"y":0.72,"e":0.1},{"t":2005.9,"y":0.46,"e":0.1},{"t":2006.05,"y":0.75,"e":0.04},{"t":2006.15,"y":0.95,"e":0.04},
{"t":2006.25,"y":1.1,"e":0.03},{"t":2006.34,"y":1.15,"e":0.03},{"t":2006.42,"y":1.1,"e":0.03},{"t":2006.5,"y":1.05,"e":0.03},{"t":2006.58,"y":1.07,"e":0.03},{"t":2006.66,"y":1.05,"e":0.03},
{"t":2006.82,"y":0.85,"e":0.04},{"t":2006.9,"y":0.58,"e":0.04},{"t":2006.95,"y":0.3,"e":0.05},{"t":2007.04,"y":0.46,"e":0.05},{"t":2007.17,"y":0.5,"e":0.12},
{"t":2007.83,"y":0.15,"e":0.03},{"t":2007.98,"y":-0.1,"e":0.03},{"t":2008.07,"y":-0.05,"e":0.03},{"t":2008.24,"y":-0.1,"e":0.03},{"t":2008.3,"y":-0.22,"e":0.03},{"t":2008.34,"y":-0.55,"e":0.03},
{"t":2008.53,"y":-0.69,"e":0.03},{"t":2008.64,"y":-0.5,"e":0.03},{"t":2008.75,"y":-0.3,"e":0.03},{"t":2008.86,"y":0.0,"e":0.03},{"t":2008.95,"y":0.05,"e":0.03},
{"t":2009.02,"y":0.02,"e":0.03},{"t":2009.1,"y":0.05,"e":0.03},{"t":2009.18,"y":0.0,"e":0.03},{"t":2009.26,"y":0.0,"e":0.03},{"t":2009.33,"y":-0.03,"e":0.03},{"t":2009.42,"y":-0.05,"e":0.03},
{"t":2009.5,"y":-0.1,"e":0.03},{"t":2009.58,"y":-0.14,"e":0.03},{"t":2009.66,"y":-0.2,"e":0.03},{"t":2009.73,"y":-0.3,"e":0.03},{"t":2009.82,"y":-0.68,"e":0.08},{"t":2009.96,"y":-0.95,"e":0.04},
{"t":2010.1,"y":-1.22,"e":0.03},{"t":2010.18,"y":-1.2,"e":0.03},{"t":2010.27,"y":-1.25,"e":0.03},{"t":2010.36,"y":-1.28,"e":0.03},{"t":2010.44,"y":-1.3,"e":0.03},{"t":2010.52,"y":-1.25,"e":0.03},{"t":2010.6,"y":-1.3,"e":0.03},
{"t":2010.69,"y":-1.83,"e":0.03},{"t":2010.77,"y":-1.88,"e":0.03},{"t":2010.85,"y":-1.92,"e":0.03},{"t":2010.93,"y":-1.96,"e":0.03},{"t":2011.04,"y":-1.7,"e":0.03},{"t":2011.12,"y":-2.05,"e":0.03},
{"t":2011.2,"y":-1.9,"e":0.03},{"t":2011.3,"y":-1.75,"e":0.03},{"t":2011.39,"y":-1.52,"e":0.03},{"t":2011.47,"y":-0.9,"e":0.03},{"t":2011.56,"y":-0.6,"e":0.03},{"t":2011.62,"y":-0.39,"e":0.03},
{"t":2011.69,"y":0.07,"e":0.03},{"t":2011.74,"y":0.3,"e":0.03},{"t":2011.83,"y":-0.17,"e":0.03},{"t":2011.9,"y":-0.15,"e":0.08},{"t":2011.96,"y":-0.3,"e":0.03},{"t":2012.02,"y":-0.25,"e":0.03},
{"t":2012.1,"y":-0.3,"e":0.03},{"t":2012.18,"y":-0.5,"e":0.08},{"t":2012.26,"y":0.0,"e":0.03},{"t":2012.33,"y":0.28,"e":0.03},{"t":2012.41,"y":0.33,"e":0.03},{"t":2012.5,"y":0.4,"e":0.03},
{"t":2012.58,"y":0.45,"e":0.03},{"t":2012.66,"y":0.52,"e":0.03},{"t":2012.72,"y":0.48,"e":0.03},{"t":2012.8,"y":0.22,"e":0.03},{"t":2012.88,"y":0.18,"e":0.03},{"t":2012.96,"y":0.05,"e":0.03},
{"t":2013.04,"y":-0.05,"e":0.03},{"t":2013.08,"y":-0.15,"e":0.03},{"t":2013.14,"y":0.0,"e":0.03},{"t":2013.2,"y":0.02,"e":0.03},{"t":2013.27,"y":0.28,"e":0.03},{"t":2013.35,"y":0.28,"e":0.03},
{"t":2013.45,"y":0.45,"e":0.03},{"t":2013.53,"y":0.6,"e":0.03},{"t":2013.6,"y":0.75,"e":0.03},{"t":2013.67,"y":0.85,"e":0.03},{"t":2013.74,"y":0.95,"e":0.03},{"t":2013.82,"y":1.03,"e":0.03},
{"t":2013.9,"y":1.1,"e":0.03},{"t":2013.97,"y":1.12,"e":0.03}
 ]
},
"vconcat": [
 {
  "width": 612, "height": 26,
  "view": {"stroke": null},
  "title": {"text": "B1937+21", "offset": 24, "dx": 4, "anchor": "middle"},
  "data": {"name": "ann"},
  "mark": {"type": "text", "fontSize": 12, "font": "Liberation Serif", "color": "black"},
  "encoding": {
   "x": {"field": "t", "type": "quantitative", "scale": {"domain": [2004.5, 2014.5], "nice": false, "zero": false}, "axis": null},
   "text": {"field": "s"}
  }
 },
 {
  "width": 612, "height": 88,
  "resolve": {"axis": {"x": "independent", "y": "independent"}},
  "layer": [
   {"data": {"name": "v"}, "mark": {"type": "rule", "strokeDash": [7, 5], "strokeWidth": 1.5, "color": "black"},
    "encoding": {"x": {"field": "t", "type": "quantitative", "scale": {"domain": [2004.5, 2014.5], "nice": false, "zero": false}, "axis": {"orient": "top", "values": [2005,2005.5,2006,2006.5,2007,2007.5,2008,2008.5,2009,2009.5,2010,2010.5,2011,2011.5,2012,2012.5,2013,2013.5,2014], "labels": false, "tickSize": -5, "title": null}}}},
   {"data": {"values": [{}]}, "mark": {"type": "rule", "strokeDash": [7, 5], "strokeWidth": 1.5, "color": "black"},
    "encoding": {"y": {"datum": 0, "type": "quantitative", "scale": {"domain": [-5.7, 5.7], "nice": false, "zero": false}, "axis": {"orient": "right", "values": [-5,-4,-3,-2,-1,0,1,2,3,4,5], "labels": false, "tickSize": -4, "title": null}}}},
   {"data": {"name": "r"}, "mark": {"type": "circle", "size": 20},
    "encoding": {
     "x": {"field": "t", "type": "quantitative", "scale": {"domain": [2004.5, 2014.5], "nice": false, "zero": false}, "axis": {"orient": "bottom", "values": [2005,2005.5,2006,2006.5,2007,2007.5,2008,2008.5,2009,2009.5,2010,2010.5,2011,2011.5,2012,2012.5,2013,2013.5,2014], "labels": false, "tickSize": -5, "title": null}},
     "y": {"field": "y", "type": "quantitative", "scale": {"domain": [-5.7, 5.7], "nice": false, "zero": false}, "axis": {"orient": "left", "values": [-5,-4,-3,-2,-1,0,1,2,3,4,5], "tickSize": -4, "labelPadding": 9, "labelExpr": "datum.value % 3 == 0 ? format(datum.value, 'd') : ''", "title": "Residual [μs]", "titleX": -42, "titleY": 44, "titleAngle": -90, "titleAlign": "center", "titleBaseline": "bottom"}},
     "color": {"field": "c", "type": "nominal", "scale": {"domain": ["a", "b", "c"], "range": ["#00ff00", "#0000ff", "#800080"]}, "legend": null},
     "opacity": {"condition": {"test": "datum.c == 'b'", "value": 0.7}, "value": 0.45},
     "order": {"field": "c"}
    }}
  ]
 },
 {
  "width": 612, "height": 88,
  "resolve": {"axis": {"x": "independent", "y": "independent"}},
  "layer": [
   {"data": {"name": "v"}, "mark": {"type": "rule", "strokeDash": [7, 5], "strokeWidth": 1.5, "color": "black"},
    "encoding": {"x": {"field": "t", "type": "quantitative", "scale": {"domain": [2004.5, 2014.5], "nice": false, "zero": false}, "axis": {"orient": "top", "values": [2005,2005.5,2006,2006.5,2007,2007.5,2008,2008.5,2009,2009.5,2010,2010.5,2011,2011.5,2012,2012.5,2013,2013.5,2014], "labels": false, "tickSize": -5, "title": null}}}},
   {"data": {"values": [{}]}, "mark": {"type": "rule", "strokeDash": [7, 5], "strokeWidth": 1.5, "color": "black"},
    "encoding": {"y": {"datum": 0, "type": "quantitative", "scale": {"domain": [-4.2, 4.2], "nice": false, "zero": false, "clamp": true}, "axis": {"orient": "right", "values": [-4,-3.5,-3,-2.5,-2,-1.5,-1,-0.5,0,0.5,1,1.5,2,2.5,3,3.5,4], "labels": false, "tickSize": -4, "title": null}}}},
   {"data": {"name": "a"}, "mark": {"type": "errorbar", "thickness": 1.5},
    "encoding": {
     "x": {"field": "t", "type": "quantitative", "scale": {"domain": [2004.5, 2014.5], "nice": false, "zero": false}, "axis": null},
     "y": {"field": "y", "type": "quantitative", "scale": {"domain": [-4.2, 4.2], "nice": false, "zero": false, "clamp": true}, "axis": null},
     "yError": {"field": "e"},
     "color": {"field": "c", "type": "nominal", "scale": {"domain": ["a", "b", "c"], "range": ["#00ff00", "#0000ff", "#800080"]}, "legend": null}
    }},
   {"data": {"name": "a"}, "mark": {"type": "circle", "size": 22, "opacity": 1},
    "encoding": {
     "x": {"field": "t", "type": "quantitative", "scale": {"domain": [2004.5, 2014.5], "nice": false, "zero": false}, "axis": {"orient": "bottom", "values": [2005,2005.5,2006,2006.5,2007,2007.5,2008,2008.5,2009,2009.5,2010,2010.5,2011,2011.5,2012,2012.5,2013,2013.5,2014], "labels": false, "tickSize": -5, "title": null}},
     "y": {"field": "y", "type": "quantitative", "scale": {"domain": [-4.2, 4.2], "nice": false, "zero": false, "clamp": true}, "axis": {"orient": "left", "values": [-4,-3.5,-3,-2.5,-2,-1.5,-1,-0.5,0,0.5,1,1.5,2,2.5,3,3.5,4], "tickSize": -4, "labelPadding": 9, "labelExpr": "datum.value % 2.5 == 0 ? format(datum.value, '.1f') : ''", "title": ["Averaged", "Residual [μs]"], "titleLineHeight": 15, "titleX": -40, "titleY": 44, "titleAngle": -90, "titleAlign": "center", "titleBaseline": "bottom"}},
     "color": {"field": "c", "type": "nominal", "scale": {"domain": ["a", "b", "c"], "range": ["#00ff00", "#0000ff", "#800080"]}, "legend": null},
     "order": {"field": "c"}
    }}
  ]
 },
 {
  "width": 612, "height": 88,
  "resolve": {"axis": {"x": "independent", "y": "independent"}},
  "layer": [
   {"data": {"name": "v"}, "mark": {"type": "rule", "strokeDash": [7, 5], "strokeWidth": 1.5, "color": "black"},
    "encoding": {"x": {"field": "t", "type": "quantitative", "scale": {"domain": [2004.5, 2014.5], "nice": false, "zero": false}, "axis": {"orient": "top", "values": [2005,2005.5,2006,2006.5,2007,2007.5,2008,2008.5,2009,2009.5,2010,2010.5,2011,2011.5,2012,2012.5,2013,2013.5,2014], "labels": false, "tickSize": -5, "title": null}}}},
   {"data": {"values": [{}]}, "mark": {"type": "rule", "strokeDash": [7, 5], "strokeWidth": 1.5, "color": "black"},
    "encoding": {"y": {"datum": 0, "type": "quantitative", "scale": {"domain": [-1.16, 1.16], "nice": false, "zero": false, "clamp": true}, "axis": {"orient": "right", "values": [-1,-0.8,-0.6,-0.4,-0.2,0,0.2,0.4,0.6,0.8,1], "labels": false, "tickSize": -4, "title": null}}}},
   {"data": {"name": "w"}, "mark": {"type": "errorbar", "thickness": 1.5},
    "encoding": {
     "x": {"field": "t", "type": "quantitative", "scale": {"domain": [2004.5, 2014.5], "nice": false, "zero": false}, "axis": null},
     "y": {"field": "y", "type": "quantitative", "scale": {"domain": [-1.16, 1.16], "nice": false, "zero": false, "clamp": true}, "axis": null},
     "yError": {"field": "e"},
     "color": {"field": "c", "type": "nominal", "scale": {"domain": ["a", "b", "c"], "range": ["#00ff00", "#0000ff", "#800080"]}, "legend": null}
    }},
   {"data": {"name": "w"}, "mark": {"type": "circle", "size": 22, "opacity": 1},
    "encoding": {
     "x": {"field": "t", "type": "quantitative", "scale": {"domain": [2004.5, 2014.5], "nice": false, "zero": false}, "axis": {"orient": "bottom", "values": [2005,2005.5,2006,2006.5,2007,2007.5,2008,2008.5,2009,2009.5,2010,2010.5,2011,2011.5,2012,2012.5,2013,2013.5,2014], "labels": false, "tickSize": -5, "title": null}},
     "y": {"field": "y", "type": "quantitative", "scale": {"domain": [-1.16, 1.16], "nice": false, "zero": false, "clamp": true}, "axis": {"orient": "left", "values": [-1,-0.8,-0.6,-0.4,-0.2,0,0.2,0.4,0.6,0.8,1], "tickSize": -4, "labelPadding": 9, "labelExpr": "(datum.value == 0 || abs(datum.value) == 0.6) ? format(datum.value, '.1f') : ''", "title": ["Whitened", "Residual [μs]"], "titleLineHeight": 15, "titleX": -40, "titleY": 44, "titleAngle": -90, "titleAlign": "center", "titleBaseline": "bottom"}},
     "color": {"field": "c", "type": "nominal", "scale": {"domain": ["a", "b", "c"], "range": ["#00ff00", "#0000ff", "#800080"]}, "legend": null},
     "order": {"field": "c"}
    }}
  ]
 },
 {
  "width": 612, "height": 88,
  "resolve": {"axis": {"x": "independent", "y": "independent"}},
  "layer": [
   {"data": {"name": "v"}, "mark": {"type": "rule", "strokeDash": [7, 5], "strokeWidth": 1.5, "color": "black"},
    "encoding": {"x": {"field": "t", "type": "quantitative", "scale": {"domain": [2004.5, 2014.5], "nice": false, "zero": false}, "axis": {"orient": "top", "values": [2005,2005.5,2006,2006.5,2007,2007.5,2008,2008.5,2009,2009.5,2010,2010.5,2011,2011.5,2012,2012.5,2013,2013.5,2014], "labels": false, "tickSize": -5, "title": null}}}},
   {"data": {"name": "d"}, "mark": {"type": "errorbar", "thickness": 1.2, "color": "black", "ticks": true},
    "encoding": {
     "x": {"field": "t", "type": "quantitative", "scale": {"domain": [2004.5, 2014.5], "nice": false, "zero": false}, "axis": null},
     "y": {"field": "y", "type": "quantitative", "scale": {"domain": [-2.55, 2.0], "nice": false, "zero": false}, "axis": null},
     "yError": {"field": "e"}
    }},
   {"data": {"name": "d"}, "mark": {"type": "tick", "orient": "horizontal", "size": 7, "thickness": 2.5, "color": "black"},
    "encoding": {
     "x": {"field": "t", "type": "quantitative", "scale": {"domain": [2004.5, 2014.5], "nice": false, "zero": false}, "axis": {"orient": "bottom", "values": [2005,2005.5,2006,2006.5,2007,2007.5,2008,2008.5,2009,2009.5,2010,2010.5,2011,2011.5,2012,2012.5,2013,2013.5,2014], "tickSize": -5, "labelPadding": 5, "labelExpr": "datum.value % 2 == 0 ? format(datum.value, 'd') : ''", "title": "Date [yr]", "titlePadding": 3}},
     "y": {"field": "y", "type": "quantitative", "scale": {"domain": [-2.55, 2.0], "nice": false, "zero": false}, "axis": {"orient": "left", "values": [-2.4,-2.2,-2,-1.8,-1.6,-1.4,-1.2,-1,-0.8,-0.6,-0.4,-0.2,0,0.2,0.4,0.6,0.8,1,1.2,1.4,1.6,1.8], "tickSize": -4, "labelPadding": 9, "labelExpr": "datum.value % 1 == 0 ? format(datum.value, 'd') : ''", "title": ["DMX", "[10⁻³ pc cm⁻³]"], "titleLineHeight": 15, "titleX": -47, "titleY": 44, "titleAngle": -90, "titleAlign": "center", "titleBaseline": "bottom"}}
    }},
   {"data": {"name": "d"}, "mark": {"type": "circle", "size": 8, "opacity": 1, "color": "black"},
    "encoding": {
     "x": {"field": "t", "type": "quantitative", "scale": {"domain": [2004.5, 2014.5], "nice": false, "zero": false}, "axis": null},
     "y": {"field": "y", "type": "quantitative", "scale": {"domain": [-2.55, 2.0], "nice": false, "zero": false}, "axis": {"orient": "right", "values": [-2.4,-2.2,-2,-1.8,-1.6,-1.4,-1.2,-1,-0.8,-0.6,-0.4,-0.2,0,0.2,0.4,0.6,0.8,1,1.2,1.4,1.6,1.8], "labels": false, "tickSize": -4, "title": null}}
    }}
  ]
 }
]
}
